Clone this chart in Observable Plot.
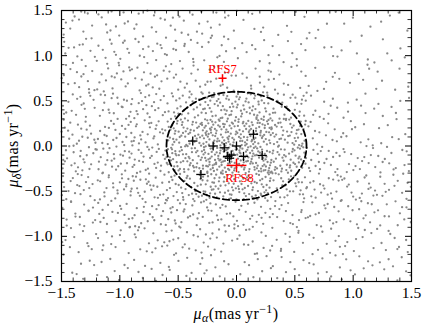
<!DOCTYPE html>
<html><head><meta charset="utf-8">
<script src="https://cdn.jsdelivr.net/npm/d3@7"></script>
<script src="https://cdn.jsdelivr.net/npm/@observablehq/plot@0.6"></script>
<style>
body{margin:0;background:#fff}
svg text, svg tspan { font-family: "Liberation Serif", serif !important; }
</style>
</head><body><div id="chart"></div>
<script>
// ---- data ----
const xDomain = [-1.5, 1.5];
const yDomain = [-1.5, 1.5];
const majorTicks = [-1.5, -1.0, -0.5, 0, 0.5, 1.0, 1.5];
const minorTicks = [-1.4,-1.3,-1.2,-1.1,-0.9,-0.8,-0.7,-0.6,-0.4,-0.3,-0.2,-0.1,0.1,0.2,0.3,0.4,0.6,0.7,0.8,0.9,1.1,1.2,1.3,1.4];

// field stars: estimated counts per 0.3 x 0.3 cell; rows from y=1.5 downward, columns from x=-1.5
const cellSize = 0.3;
const fieldCounts = [
  [10, 11, 10, 11, 10,  6,  5,  4,  4,  4],
  [13, 15, 14, 13, 11,  9,  8,  6,  5,  5],
  [15, 17, 16, 15, 15, 12, 10,  8,  6,  5],
  [17, 20, 22, 30, 45, 42, 26, 10,  8,  6],
  [20, 23, 26, 50, 75, 72, 46, 13,  9,  7],
  [22, 25, 28, 55, 80, 78, 48, 20, 16, 14],
  [20, 23, 26, 34, 50, 48, 30, 20, 17, 14],
  [16, 18, 21, 23, 22, 20, 18, 16, 14, 12],
  [11, 12, 14, 15, 14, 13, 12, 11, 10, 10],
  [ 7,  8,  8,  9,  9,  8,  8,  8,  8,  8]
];

// cluster members (black)
const memberX = [-0.375, -0.20, -0.105, 0.0, 0.145, -0.075, -0.045, -0.06, 0.06, 0.22, -0.305];
const memberY = [0.055, 0.0, -0.02, 0.0, 0.13, -0.115, -0.10, -0.135, -0.115, -0.105, -0.315];
const memberErrX = [0.04, 0.04, 0.04, 0.04, 0.04, 0.04, 0.04, 0.04, 0.04, 0.04, 0.04];
const memberErrY = [0.05, 0.05, 0.05, 0.05, 0.05, 0.05, 0.05, 0.05, 0.05, 0.05, 0.05];

// highlighted objects (red)
const rfsNames = ["RFS7", "RFS8"];
const rfsX = [-0.12, 0.0];
const rfsY = [0.75, -0.215];
const rfsErrX = [0.035, 0.085];
const rfsErrY = [0.045, 0.075];

// dashed selection ellipse
const ellipseCenter = [0.0, 0.0];
const ellipseRadii = [0.6, 0.6];

// ---- build tables ----
function halton(i, b) { let f = 1, r = 0; while (i > 0) { f /= b; r += f * (i % b); i = Math.floor(i / b); } return r; }
const frac = v => v - Math.floor(v);
const field = [];
let k = 1;
fieldCounts.forEach((row, r) => row.forEach((n, c) => {
  const sx = frac(c * 0.618 + r * 0.414), sy = frac(c * 0.331 + r * 0.707);
  for (let i = 0; i < n; i++, k++) {
    field.push({x: xDomain[0] + (c + frac(halton(k, 2) + sx)) * cellSize,
                y: yDomain[1] - (r + frac(halton(k, 3) + sy)) * cellSize});
  }
}));
const members = memberX.map((x, i) => ({x, y: memberY[i], ex: memberErrX[i], ey: memberErrY[i]}));
const rfs = rfsNames.map((name, i) => ({name, x: rfsX[i], y: rfsY[i], ex: rfsErrX[i], ey: rfsErrY[i]}));
const ellipse = d3.range(0, 361, 2).map(t => ({
  x: ellipseCenter[0] + ellipseRadii[0] * Math.cos(t * Math.PI / 180),
  y: ellipseCenter[1] + ellipseRadii[1] * Math.sin(t * Math.PI / 180)}));

const W = 425, H = 327, mT = 10, mB = 46, mL = 61, mR = 14;
const plotW = W - mL - mR, plotH = H - mT - mB;
const fmt = d => (d < 0 ? "\u2212" : "") + Math.abs(d).toFixed(1);
const serif = "Liberation Serif";

function crosses(data, color, sw) {
  return [
    Plot.link(data, {x1: d => d.x - d.ex, x2: d => d.x + d.ex, y1: "y", y2: "y", stroke: color, strokeWidth: sw}),
    Plot.link(data, {x1: "x", x2: "x", y1: d => d.y - d.ey, y2: d => d.y + d.ey, stroke: color, strokeWidth: sw})
  ];
}

const plot = Plot.plot({
  width: W, height: H,
  marginTop: mT, marginBottom: mB, marginLeft: mL, marginRight: mR,
  style: {fontFamily: serif, fontSize: "14px", background: "white", overflow: "visible"},
  x: {domain: xDomain}, y: {domain: yDomain},
  marks: [
    Plot.dot(field, {x: "x", y: "y", r: 1.15, fill: "#888888", stroke: "none"}),
    Plot.line(ellipse, {x: "x", y: "y", stroke: "black", strokeWidth: 1.8, strokeDasharray: "6.5,3.5"}),
    ...crosses(members, "black", 1.3),
    ...crosses(rfs, "red", 1.5),
    Plot.text([rfs[0]], {x: "x", y: "y", text: "name", dy: -9, fill: "red", fontSize: 12.5, fontFamily: serif}),
    Plot.text([rfs[1]], {x: "x", y: "y", text: "name", dy: 13, dx: 3, fill: "red", fontSize: 12.5, fontFamily: serif}),
    // inward ticks on all four sides
    Plot.tickX(majorTicks, {x: d => d, insetTop: plotH - 6, stroke: "black"}),
    Plot.tickX(majorTicks, {x: d => d, insetBottom: plotH - 6, stroke: "black"}),
    Plot.tickX(minorTicks, {x: d => d, insetTop: plotH - 3.5, stroke: "black", strokeWidth: 0.8}),
    Plot.tickX(minorTicks, {x: d => d, insetBottom: plotH - 3.5, stroke: "black", strokeWidth: 0.8}),
    Plot.tickY(majorTicks, {y: d => d, insetRight: plotW - 6, stroke: "black"}),
    Plot.tickY(majorTicks, {y: d => d, insetLeft: plotW - 6, stroke: "black"}),
    Plot.tickY(minorTicks, {y: d => d, insetRight: plotW - 3.5, stroke: "black", strokeWidth: 0.8}),
    Plot.tickY(minorTicks, {y: d => d, insetLeft: plotW - 3.5, stroke: "black", strokeWidth: 0.8}),
    Plot.axisX({anchor: "bottom", ticks: majorTicks, tickSize: 0, tickPadding: 5, tickFormat: fmt, label: null, fontSize: 15.5, fontFamily: serif}),
    Plot.axisY({anchor: "left", ticks: majorTicks, tickSize: 0, tickPadding: 9, tickFormat: fmt, label: null, fontSize: 15.5, fontFamily: serif}),
    Plot.frame({stroke: "black", strokeWidth: 1.2})
  ]
});

const svg = d3.select(plot);
function axisLabel(sel, sub) {
  sel.attr("font-family", serif).attr("font-size", 16).attr("letter-spacing", 0.4).attr("fill", "black").attr("text-anchor", "middle");
  sel.append("tspan").attr("font-style", "italic").text("\u03bc");
  sel.append("tspan").attr("font-style", "italic").attr("font-size", 12).attr("dy", 3).text(sub);
  sel.append("tspan").attr("dy", -3).text("(mas\u2009yr");
  sel.append("tspan").attr("font-size", 12).attr("dy", -6).text("\u22121");
  sel.append("tspan").attr("dy", 6).text(")");
}
axisLabel(svg.append("text").attr("x", mL + plotW / 2).attr("y", 319), "\u03b1");
axisLabel(svg.append("text").attr("transform", "rotate(-90)").attr("x", -(mT + plotH / 2)).attr("y", 18), "\u03b4");

document.getElementById("chart").appendChild(plot);
</script>
</body></html>
